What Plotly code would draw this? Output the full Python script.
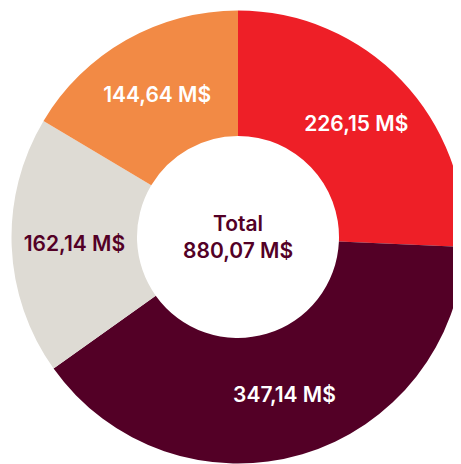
import plotly.graph_objects as go

labels = ["A", "B", "C", "D"]
values = [226.15, 347.14, 162.14, 144.64]
colors = ["#EE1F27", "#530026", "#DEDBD4", "#F28A45"]
text_colors = ["#FFFFFF", "#FFFFFF", "#530026", "#FFFFFF"]
total = sum(values)

fig = go.Figure(go.Pie(
    labels=labels,
    values=values,
    sort=False,
    direction="clockwise",
    rotation=0,
    hole=0.446,
    marker=dict(colors=colors, line=dict(width=0)),
    texttemplate="%{value:.2f} M$",
    textposition="inside",
    insidetextorientation="horizontal",
    textfont=dict(family="Inter", size=21, color=text_colors, weight=600),
    domain=dict(x=[0.0076, 0.9902], y=[0.0183, 0.9946]),
    showlegend=False,
    hoverinfo="skip",
))

fig.add_annotation(
    x=0.4989, y=0.5055, xref="paper", yref="paper",
    text="Total<br>" + f"{total:.2f}".replace(".", ",") + " M$",
    showarrow=False,
    font=dict(family="Inter", size=21, color="#530026", weight=600),
    align="center",
)

fig.update_layout(
    width=461, height=464,
    margin=dict(l=0, r=0, t=0, b=0),
    paper_bgcolor="white",
    separators=", ",
    uniformtext=dict(minsize=21, mode="show"),
)

fig.write_html("out.html")
